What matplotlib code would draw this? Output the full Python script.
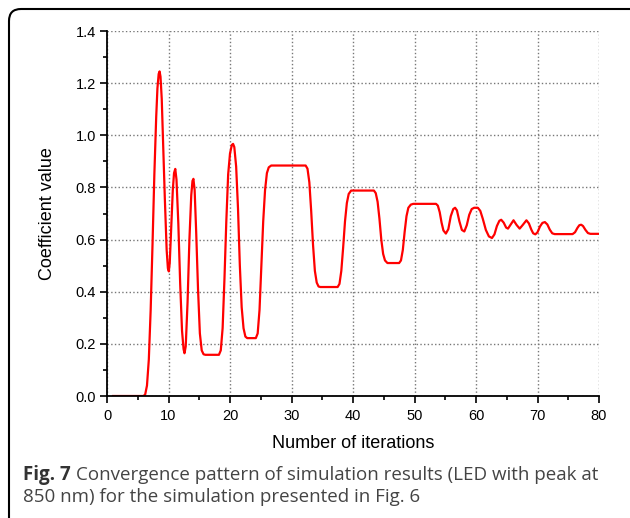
import numpy as np
import matplotlib
matplotlib.use('Agg')
from matplotlib import pyplot as plt
from matplotlib.patches import FancyBboxPatch
from matplotlib.ticker import MultipleLocator

# values (iteration, coefficient)
iterations = [1, 5.9, 6.2, 6.5, 6.8, 7.1, 7.4, 7.7, 8.0, 8.2, 8.4, 8.55, 8.7,
              8.9, 9.1, 9.4, 9.7, 9.9, 10.05, 10.2, 10.4, 10.7, 10.9, 11.1,
              11.3, 11.6, 11.9, 12.2, 12.45, 12.6, 12.8, 13.1, 13.4, 13.7, 13.9,
              14.05, 14.25, 14.5, 14.8, 15.1, 15.4, 15.7, 16.0, 18.2, 18.5, 18.8,
              19.1, 19.4, 19.7, 20.0, 20.3, 20.5, 20.7, 21.0, 21.3, 21.6, 21.9,
              22.2, 22.5, 22.8, 24.2, 24.5, 24.8, 25.1, 25.4, 25.7, 26.0, 26.3,
              26.7, 32.3, 32.6, 32.9, 33.2, 33.5, 33.8, 34.1, 34.4, 34.7, 37.5,
              37.8, 38.1, 38.4, 38.7, 39.0, 39.3, 39.7, 43.4, 43.7, 44.0, 44.3,
              44.6, 44.9, 45.2, 45.6, 47.5, 47.8, 48.1, 48.4, 48.7, 49.0, 49.4,
              49.8, 53.5, 53.8, 54.1, 54.4, 54.7, 55.1, 55.5, 55.9, 56.3, 56.6,
              56.9, 57.3, 57.7, 58.1, 58.5, 58.9, 59.3, 59.7, 60.3, 60.7, 61.1,
              61.6, 62.1, 62.6, 63.0, 63.4, 63.8, 64.1, 64.5, 64.9, 65.2, 65.6,
              66.1, 66.6, 67.1, 67.6, 68.2, 68.6, 69.0, 69.3, 69.65, 70.0, 70.4,
              70.8, 71.2, 71.6, 72.0, 72.4, 72.8, 75.7, 76.1, 76.5, 76.8, 77.1,
              77.4, 77.8, 78.2, 78.6, 80]
coeff = [0, 0, 0.005, 0.04, 0.14, 0.33, 0.58, 0.85, 1.07, 1.18, 1.235, 1.245,
         1.225, 1.14, 0.99, 0.76, 0.56, 0.49, 0.478, 0.51, 0.62, 0.79, 0.855,
         0.871, 0.83, 0.66, 0.43, 0.25, 0.18, 0.164, 0.19, 0.36, 0.6, 0.77,
         0.825, 0.833, 0.79, 0.63, 0.41, 0.24, 0.175, 0.16, 0.158, 0.158, 0.175,
         0.26, 0.45, 0.67, 0.85, 0.93, 0.963, 0.967, 0.955, 0.88, 0.72, 0.5,
         0.34, 0.26, 0.228, 0.222, 0.222, 0.24, 0.33, 0.5, 0.67, 0.79, 0.855,
         0.877, 0.884, 0.884, 0.872, 0.82, 0.71, 0.58, 0.48, 0.435, 0.42, 0.418,
         0.418, 0.43, 0.48, 0.57, 0.67, 0.74, 0.775, 0.788, 0.788, 0.778, 0.745,
         0.68, 0.6, 0.545, 0.52, 0.51, 0.51, 0.52, 0.56, 0.63, 0.69, 0.722,
         0.734, 0.737, 0.737, 0.73, 0.705, 0.665, 0.635, 0.623, 0.64, 0.69,
         0.717, 0.722, 0.712, 0.67, 0.637, 0.631, 0.655, 0.695, 0.717, 0.722,
         0.722, 0.71, 0.68, 0.637, 0.612, 0.606, 0.62, 0.652, 0.672, 0.676,
         0.665, 0.646, 0.642, 0.656, 0.674, 0.656, 0.642, 0.656, 0.674, 0.662,
         0.638, 0.624, 0.62, 0.628, 0.65, 0.664, 0.667, 0.658, 0.638, 0.624,
         0.621, 0.621, 0.628, 0.645, 0.655, 0.657, 0.652, 0.637, 0.625, 0.622,
         0.622]

x_ticks = np.arange(0, 81, 10)
y_ticks = np.arange(0, 1.41, 0.2)

plt.rcParams['font.family'] = ['Liberation Sans', 'DejaVu Sans']

fig = plt.figure(figsize=(6.3, 5.18), dpi=100)
ax = fig.add_axes([107/630, 1 - 396/518, 492/630, 365/518])

ax.plot(iterations, coeff, color='#ff0000', lw=1.6, solid_joinstyle='round')

ax.set_xlim(0, 80)
ax.set_ylim(0, 1.4)
ax.set_xticks(x_ticks)
ax.set_yticks(y_ticks)
ax.set_yticklabels(['%.1f' % v for v in y_ticks])
ax.xaxis.set_minor_locator(MultipleLocator(5))
ax.yaxis.set_minor_locator(MultipleLocator(0.1))
ax.tick_params(which='major', direction='out', length=5, width=1.2,
               labelsize=10.5, pad=3)
ax.tick_params(axis='x', which='major', pad=4)
ax.tick_params(which='minor', direction='out', length=3, width=1.2)
ax.grid(True, which='major', ls=':', color='#777777', lw=1)
ax.set_axisbelow(True)
for s in ['top', 'right']:
    ax.spines[s].set_visible(False)
for s in ['left', 'bottom']:
    ax.spines[s].set_linewidth(1.3)
    ax.spines[s].set_zorder(3)

ax.set_xlabel('Number of iterations', fontsize=13, labelpad=9)
ax.set_ylabel('Coefficient value', fontsize=13, labelpad=14)

# rounded frame around the figure
frame = FancyBboxPatch((9, -40), 660, 549,
                       boxstyle='round,pad=0,rounding_size=12',
                       transform=None, fill=False, ec='black', lw=1.5)
fig.patches.append(frame)

# caption
cap_font = ['Open Sans', 'DejaVu Sans']
y1 = (518 - 480) / 518
y2 = (518 - 502) / 518
bold = fig.text(23/630, y1, 'Fig. 7', fontsize=13.5, fontweight='bold',
                family=cap_font, color='#333333')
fig.canvas.draw()
bb = bold.get_window_extent()
x_rest = (bb.x1 + 5) / 630
fig.text(x_rest, y1, 'Convergence pattern of simulation results (LED with peak at',
         fontsize=13.5, family=cap_font, color='#444444')
fig.text(23/630, y2, '850 nm) for the simulation presented in Fig. 6',
         fontsize=13.5, family=cap_font, color='#444444')

fig.savefig('out.png', dpi=100)
